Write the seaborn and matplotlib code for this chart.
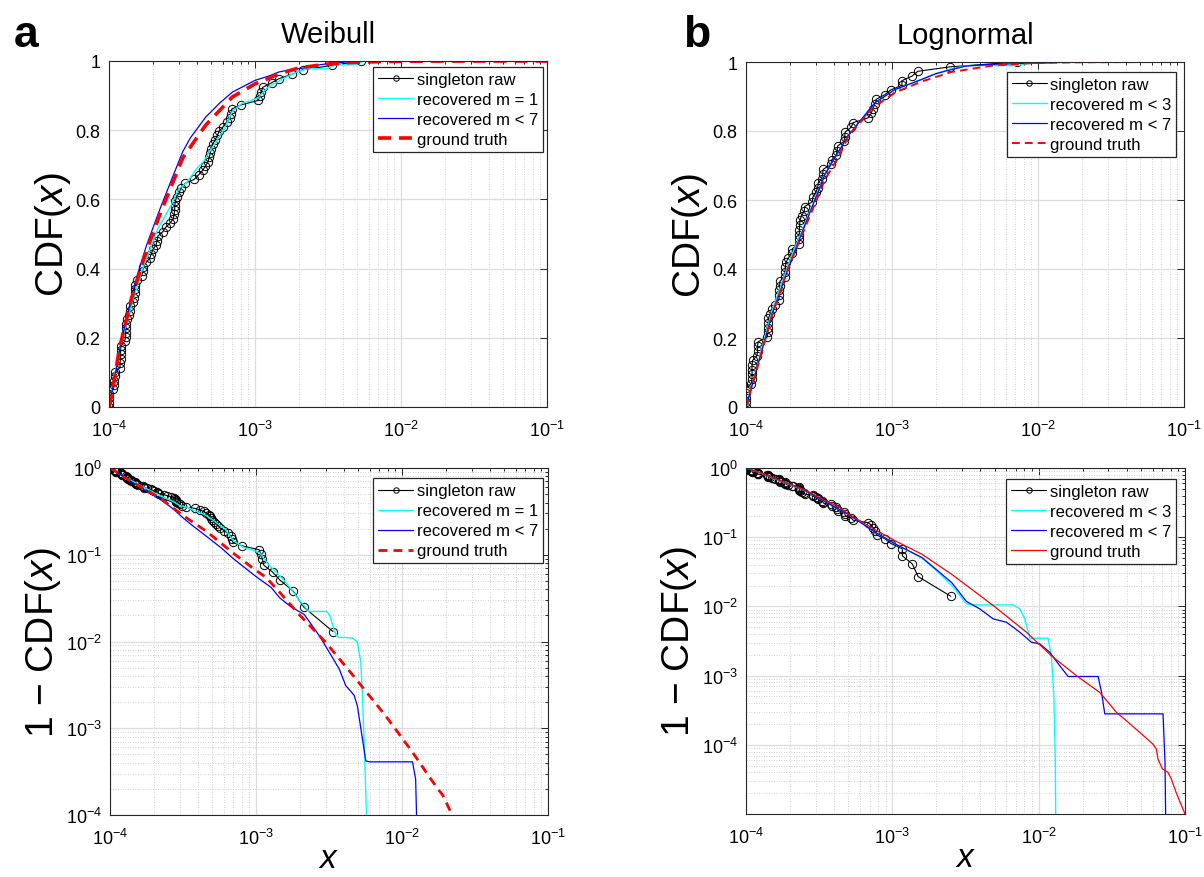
import numpy as np
import matplotlib
matplotlib.use("Agg")
import matplotlib.pyplot as plt
import seaborn as sns
from matplotlib.ticker import FixedLocator, LogLocator, NullFormatter, FixedFormatter, LogFormatterSciNotation

# ---------------- data ----------------
# Weibull: singleton raw empirical CDF
wb_raw_x = [1.00e-4, 1.00e-4, 1.00e-4, 1.00e-4, 1.07e-4, 1.09e-4, 1.09e-4, 1.10e-4, 1.10e-4, 1.19e-4,
            1.19e-4, 1.20e-4, 1.20e-4, 1.20e-4, 1.21e-4, 1.28e-4, 1.30e-4, 1.30e-4, 1.31e-4, 1.31e-4,
            1.33e-4, 1.38e-4, 1.39e-4, 1.40e-4, 1.47e-4, 1.48e-4, 1.50e-4, 1.50e-4, 1.51e-4, 1.55e-4,
            1.68e-4, 1.70e-4, 1.72e-4, 1.80e-4, 1.90e-4, 1.95e-4, 2.00e-4, 2.10e-4, 2.14e-4, 2.16e-4,
            2.33e-4, 2.44e-4, 2.62e-4, 2.76e-4, 2.79e-4, 2.82e-4, 2.82e-4, 2.85e-4, 2.91e-4, 3.03e-4,
            3.11e-4, 3.30e-4, 3.84e-4, 4.11e-4, 4.38e-4, 4.57e-4, 4.76e-4, 4.86e-4, 4.94e-4, 5.02e-4,
            5.12e-4, 5.33e-4, 5.53e-4, 5.68e-4, 6.05e-4, 6.38e-4, 6.72e-4, 6.86e-4, 6.93e-4, 8.00e-4,
            1.053e-3, 1.08e-3, 1.105e-3, 1.13e-3, 1.30e-3, 1.46e-3, 1.80e-3, 2.12e-3, 3.37e-3, 5.30e-3]
wb_raw_cdf = [0.000, 0.013, 0.025, 0.038, 0.051, 0.063, 0.076, 0.089, 0.101, 0.114,
              0.127, 0.139, 0.152, 0.165, 0.177, 0.190, 0.203, 0.215, 0.228, 0.241,
              0.253, 0.266, 0.278, 0.291, 0.304, 0.316, 0.329, 0.342, 0.354, 0.367,
              0.380, 0.392, 0.405, 0.418, 0.430, 0.443, 0.456, 0.468, 0.481, 0.494,
              0.506, 0.519, 0.532, 0.544, 0.557, 0.570, 0.582, 0.595, 0.608, 0.620,
              0.633, 0.646, 0.658, 0.671, 0.684, 0.696, 0.709, 0.722, 0.734, 0.747,
              0.759, 0.772, 0.785, 0.797, 0.810, 0.823, 0.835, 0.848, 0.861, 0.873,
              0.886, 0.899, 0.911, 0.924, 0.937, 0.949, 0.962, 0.975, 0.987, 1.000]

# Weibull: recovered m = 1 (survival 1-CDF)
wb_m1_x = [1.0e-4, 1.1e-4, 1.2e-4, 1.44e-4, 1.7e-4, 2.16e-4, 2.64e-4, 3.0e-4, 3.43e-4, 4.0e-4,
           4.45e-4, 5.0e-4, 6.1e-4, 7.0e-4, 8.2e-4, 1.0e-3, 1.06e-3, 1.21e-3, 1.57e-3, 1.98e-3,
           2.3e-3, 3.05e-3, 3.2e-3, 3.45e-3, 3.62e-3, 4.58e-3, 4.95e-3, 5.22e-3, 5.36e-3, 5.56e-3,
           5.79e-3, 1.0e-1]
wb_m1_s = [1.0, 0.90, 0.82, 0.70, 0.60, 0.485, 0.42, 0.37, 0.35, 0.31,
           0.29, 0.255, 0.20, 0.145, 0.122, 0.11, 0.105, 0.078, 0.050, 0.030,
           0.0222, 0.0222, 0.020, 0.013, 0.0112, 0.011, 0.0098, 0.0058, 0.0024, 4.1e-4,
           5e-5, 1e-9]

# Weibull: recovered m < 7
wb_m7_x = [1.0e-4, 1.1e-4, 1.2e-4, 1.42e-4, 1.56e-4, 1.8e-4, 2.2e-4, 2.64e-4, 3.2e-4, 3.61e-4,
           4.6e-4, 5.78e-4, 7.0e-4, 1.0e-3, 1.27e-3, 1.45e-3, 1.74e-3, 2.14e-3, 2.71e-3, 3.18e-3,
           3.72e-3, 4.12e-3, 4.70e-3, 4.95e-3, 5.36e-3, 5.65e-3, 6.0e-3, 1.18e-2, 1.24e-2, 1.27e-2,
           1.0e-1]
wb_m7_s = [1.0, 0.91, 0.82, 0.685, 0.62, 0.535, 0.435, 0.35, 0.262, 0.222,
           0.162, 0.12, 0.09, 0.056, 0.042, 0.032, 0.025, 0.0205, 0.0117, 0.0075,
           0.0048, 0.0031, 0.0024, 0.0018, 7.5e-4, 4.2e-4, 4.1e-4, 4.1e-4, 2.6e-4, 5e-5,
           1e-9]

# Weibull: ground truth
wb_gt_x = [1.0e-4, 1.05e-4, 1.18e-4, 1.42e-4, 1.75e-4, 2.2e-4, 3.2e-4, 4.6e-4, 7.0e-4, 1.0e-3,
           1.17e-3, 1.45e-3, 2.0e-3, 3.0e-3, 4.6e-3, 7.7e-3, 1.18e-2, 1.6e-2, 1.8e-2, 1.9e-2,
           2.05e-2, 2.2e-2, 2.5e-2, 1.0e-1]
wb_gt_s = [1.0, 0.96, 0.83, 0.69, 0.565, 0.45, 0.28, 0.185, 0.104, 0.066,
           0.055, 0.037, 0.020, 0.0098, 0.0041, 0.0014, 5.3e-4, 2.5e-4, 1.9e-4, 1.7e-4,
           1.3e-4, 1.0e-4, 6e-5, 1e-9]

# Lognormal: singleton raw empirical CDF
ln_raw_x = [1.00e-4, 1.00e-4, 1.00e-4, 1.00e-4, 1.00e-4, 1.09e-4, 1.10e-4, 1.10e-4, 1.10e-4, 1.10e-4,
            1.11e-4, 1.19e-4, 1.20e-4, 1.20e-4, 1.21e-4, 1.40e-4, 1.41e-4, 1.41e-4, 1.42e-4, 1.42e-4,
            1.47e-4, 1.50e-4, 1.575e-4, 1.68e-4, 1.69e-4, 1.69e-4, 1.70e-4, 1.71e-4, 1.84e-4, 1.85e-4,
            1.86e-4, 1.88e-4, 1.95e-4, 2.07e-4, 2.08e-4, 2.30e-4, 2.31e-4, 2.32e-4, 2.32e-4, 2.33e-4,
            2.34e-4, 2.40e-4, 2.51e-4, 2.52e-4, 2.85e-4, 2.87e-4, 3.00e-4, 3.10e-4, 3.12e-4, 3.30e-4,
            3.35e-4, 3.38e-4, 3.82e-4, 3.86e-4, 4.15e-4, 4.20e-4, 4.25e-4, 4.70e-4, 4.74e-4, 4.78e-4,
            5.25e-4, 5.40e-4, 6.84e-4, 7.20e-4, 7.40e-4, 7.60e-4, 7.80e-4, 8.90e-4, 9.80e-4, 1.17e-3,
            1.17e-3, 1.37e-3, 1.50e-3, 2.51e-3, 7.18e-3]
ln_raw_cdf = [0.000, 0.014, 0.027, 0.041, 0.054, 0.068, 0.081, 0.095, 0.108, 0.122,
              0.135, 0.149, 0.162, 0.176, 0.189, 0.203, 0.216, 0.230, 0.243, 0.257,
              0.270, 0.284, 0.297, 0.311, 0.324, 0.338, 0.351, 0.365, 0.378, 0.392,
              0.405, 0.419, 0.432, 0.446, 0.459, 0.473, 0.486, 0.500, 0.514, 0.527,
              0.541, 0.554, 0.568, 0.581, 0.595, 0.608, 0.622, 0.635, 0.649, 0.662,
              0.676, 0.689, 0.703, 0.716, 0.730, 0.743, 0.757, 0.770, 0.784, 0.797,
              0.811, 0.824, 0.838, 0.851, 0.865, 0.878, 0.892, 0.905, 0.919, 0.932,
              0.946, 0.959, 0.973, 0.986, 1.000]

# Lognormal: recovered m < 3
ln_m3_x = [1.0e-4, 1.22e-4, 1.51e-4, 2.06e-4, 2.55e-4, 3.48e-4, 5.02e-4, 7.64e-4, 1.046e-3, 1.59e-3,
           2.0e-3, 2.55e-3, 3.21e-3, 3.57e-3, 6.7e-3, 7.43e-3, 8.04e-3, 8.7e-3, 1.16e-2, 1.22e-2,
           1.27e-2, 1.30e-2, 1.31e-2, 1.0e-1]
ln_m3_s = [1.0, 0.865, 0.72, 0.56, 0.465, 0.325, 0.213, 0.118, 0.080, 0.050,
           0.033, 0.020, 0.0109, 0.0105, 0.0105, 0.0092, 0.0066, 0.00347, 0.00347, 0.00195,
           5.1e-4, 5.6e-5, 5e-6, 1e-9]

# Lognormal: recovered m < 7
ln_m7_x = [1.0e-4, 1.22e-4, 1.51e-4, 2.06e-4, 2.55e-4, 3.48e-4, 5.02e-4, 7.64e-4, 1.046e-3, 1.59e-3,
           2.0e-3, 2.55e-3, 3.21e-3, 3.96e-3, 4.89e-3, 6.03e-3, 7.43e-3, 8.93e-3, 1.02e-2, 1.19e-2,
           1.39e-2, 1.59e-2, 2.55e-2, 2.69e-2, 2.83e-2, 7.08e-2, 7.3e-2, 7.4e-2, 1.0e-1]
ln_m7_s = [1.0, 0.87, 0.73, 0.57, 0.47, 0.325, 0.213, 0.118, 0.080, 0.051,
           0.034, 0.022, 0.0118, 0.0092, 0.0066, 0.0059, 0.00424, 0.00303, 0.00287, 0.00217,
           0.0014, 9.7e-4, 9.7e-4, 5.7e-4, 2.8e-4, 2.8e-4, 5.6e-5, 5e-6, 1e-9]

# Lognormal: ground truth
ln_gt_x = [1.0e-4, 1.22e-4, 1.51e-4, 1.96e-4, 2.55e-4, 3.48e-4, 4.31e-4, 5.02e-4, 7.3e-4, 1.046e-3,
           1.59e-3, 2.55e-3, 4.89e-3, 8.26e-3, 1.22e-2, 1.81e-2, 2.62e-2, 3.4e-2, 4.0e-2, 4.91e-2,
           6.05e-2, 6.37e-2, 6.54e-2, 7.0e-2, 7.65e-2, 8.07e-2, 8.73e-2, 1.0e-1]
ln_gt_s = [1.0, 0.874, 0.734, 0.594, 0.478, 0.34, 0.275, 0.216, 0.135, 0.0886,
           0.0569, 0.029, 0.0103, 0.00423, 0.00194, 0.0010, 5.7e-4, 2.94e-4, 2.2e-4, 1.51e-4,
           1.02e-4, 8.7e-5, 6.2e-5, 4.5e-5, 4.0e-5, 3.2e-5, 2.0e-5, 1.0e-5]

x_ticks = [1e-4, 1e-3, 1e-2, 1e-1]
cdf_ticks = [0, 0.2, 0.4, 0.6, 0.8, 1.0]
cdf_tick_labels = ["0", "0.2", "0.4", "0.6", "0.8", "1"]
surv_ticks = [1e-4, 1e-3, 1e-2, 1e-1, 1e0]

# ---------------- styling ----------------
sns.set_theme(style="white")
plt.rcParams["font.family"] = ["Liberation Sans", "DejaVu Sans"]
plt.rcParams["mathtext.fontset"] = "custom"
plt.rcParams["mathtext.rm"] = "Liberation Sans"
plt.rcParams["mathtext.it"] = "Liberation Sans:italic"
plt.rcParams["mathtext.bf"] = "Liberation Sans:bold"
plt.rcParams["text.color"] = "black"
plt.rcParams["axes.labelcolor"] = "black"

fig = plt.figure(figsize=(12.04, 8.78), dpi=100)
W, H = 1204.0, 878.0


def add_axes(l, t, r, b):
    return fig.add_axes([l / W, 1 - b / H, (r - l) / W, (b - t) / H])


ax_tl = add_axes(109, 62, 547, 408)
ax_tr = add_axes(746, 63, 1184, 408)
ax_bl = add_axes(110, 469, 548, 816)
ax_br = add_axes(746, 469, 1185, 815)


def style(ax, log_y, ylim):
    ax.set_xscale("log")
    ax.set_xlim(1e-4, 1e-1)
    ax.xaxis.set_major_locator(FixedLocator(x_ticks))
    ax.xaxis.set_major_formatter(LogFormatterSciNotation())
    ax.xaxis.set_minor_locator(LogLocator(base=10, subs=np.arange(2, 10)))
    ax.xaxis.set_minor_formatter(NullFormatter())
    if log_y:
        ax.set_yscale("log")
        ax.set_ylim(*ylim)
        ax.yaxis.set_major_locator(FixedLocator(surv_ticks))
        ax.yaxis.set_major_formatter(LogFormatterSciNotation())
        ax.yaxis.set_minor_locator(LogLocator(base=10, subs=np.arange(2, 10)))
        ax.yaxis.set_minor_formatter(NullFormatter())
        ax.grid(which="minor", axis="y", color="#c4c4c4", lw=0.6, ls=(0, (1, 2)))
    else:
        ax.set_ylim(*ylim)
        ax.yaxis.set_major_locator(FixedLocator(cdf_ticks))
        ax.yaxis.set_major_formatter(FixedFormatter(cdf_tick_labels))
    ax.grid(which="major", color="#dcdcdc", lw=0.9, ls="-")
    ax.grid(which="minor", axis="x", color="#c4c4c4", lw=0.6, ls=(0, (1, 2)))
    ax.set_axisbelow(True)
    ax.tick_params(which="both", direction="in", top=True, right=True,
                   color="#262626", width=0.7)
    ax.tick_params(which="major", length=5, labelsize=13, labelcolor="black")
    ax.tick_params(axis="x", which="major", pad=9)
    ax.tick_params(axis="y", which="major", pad=6)
    ax.tick_params(which="minor", length=2.5)
    for sp in ax.spines.values():
        sp.set_color("#262626")
        sp.set_linewidth(0.8)


def raw_plot(ax, x, y, label="singleton raw"):
    sns.lineplot(x=x, y=y, ax=ax, color="black", lw=0.8, marker="o", markersize=6,
                 markerfacecolor="none", markeredgecolor="black", markeredgewidth=0.7,
                 estimator=None, sort=False, label=label)


def line_plot(ax, x, y, color, label, lw=1.0, ls="-"):
    sns.lineplot(x=x, y=y, ax=ax, color=color, lw=lw, linestyle=ls,
                 estimator=None, sort=False, label=label)


def legend(ax, anchor):
    leg = ax.legend(loc="upper right", bbox_to_anchor=anchor, borderaxespad=0,
                    fontsize=12, handlelength=2.1, handletextpad=0.2, labelspacing=0.3,
                    borderpad=0.3, frameon=True, fancybox=False, framealpha=1,
                    edgecolor="#262626", markerscale=0.65)
    leg.get_frame().set_linewidth(0.9)


LABEL_FS = 28
XLABEL_FS = 24
YPAD = 2

# ---- panel a, top: Weibull CDF ----
ax = ax_tl
raw_plot(ax, wb_raw_x, wb_raw_cdf)
line_plot(ax, wb_m1_x, [1 - s for s in wb_m1_s], "#00ffff", "recovered m = 1", lw=1.0)
line_plot(ax, wb_m7_x, [1 - s for s in wb_m7_s], "#0000ff", "recovered m < 7", lw=0.9)
line_plot(ax, wb_gt_x, [1 - s for s in wb_gt_s], "#ff0000", "ground truth", lw=2.6, ls=(0, (3.6, 2.2)))
style(ax, False, (0, 1))
legend(ax, (0.991, 0.983))
ax.set_ylabel("CDF($x$)", fontsize=LABEL_FS, labelpad=YPAD)
ax.set_title("Weibull", fontsize=21, pad=14)

# ---- panel a, bottom: Weibull 1-CDF ----
ax = ax_bl
raw_plot(ax, wb_raw_x[:-1], [1 - c for c in wb_raw_cdf[:-1]])
line_plot(ax, wb_m1_x, wb_m1_s, "#00ffff", "recovered m = 1", lw=1.0)
line_plot(ax, wb_m7_x, wb_m7_s, "#0000ff", "recovered m < 7", lw=0.9)
line_plot(ax, wb_gt_x, wb_gt_s, "#ff0000", "ground truth", lw=2.0, ls=(0, (3.2, 2.2)))
style(ax, True, (1e-4, 1.0))
legend(ax, (0.9886, 0.970))
ax.set_ylabel("1 \u2212 CDF($x$)", fontsize=LABEL_FS, labelpad=YPAD)
ax.set_xlabel("$x$", fontsize=XLABEL_FS, labelpad=-3)

# ---- panel b, top: Lognormal CDF ----
ax = ax_tr
raw_plot(ax, ln_raw_x, ln_raw_cdf)
line_plot(ax, ln_m3_x, [1 - s for s in ln_m3_s], "#00ffff", "recovered m < 3", lw=1.0)
line_plot(ax, ln_m7_x, [1 - s for s in ln_m7_s], "#0000ff", "recovered m < 7", lw=0.9)
line_plot(ax, ln_gt_x, [1 - s for s in ln_gt_s], "#ff0000", "ground truth", lw=1.4, ls=(0, (4.0, 2.6)))
style(ax, False, (0, 1))
legend(ax, (0.982, 0.972))
ax.set_ylabel("CDF($x$)", fontsize=LABEL_FS, labelpad=YPAD)
ax.set_title("Lognormal", fontsize=21, pad=14)

# ---- panel b, bottom: Lognormal 1-CDF ----
ax = ax_br
raw_plot(ax, ln_raw_x[:-1], [1 - c for c in ln_raw_cdf[:-1]])
line_plot(ax, ln_m3_x, ln_m3_s, "#00ffff", "recovered m < 3", lw=1.0)
line_plot(ax, ln_m7_x, ln_m7_s, "#0000ff", "recovered m < 7", lw=0.9)
line_plot(ax, ln_gt_x, ln_gt_s, "#ff0000", "ground truth", lw=0.9)
style(ax, True, (1.0001e-5, 1.0))
legend(ax, (0.9795, 0.968))
ax.set_ylabel("1 \u2212 CDF($x$)", fontsize=LABEL_FS, labelpad=YPAD)
ax.set_xlabel("$x$", fontsize=XLABEL_FS, labelpad=-3)

fig.text(26 / W, 1 - 47 / H, "a", fontsize=32, fontweight="bold", ha="center", va="baseline")
fig.text(697 / W, 1 - 47 / H, "b", fontsize=32, fontweight="bold", ha="center", va="baseline")

fig.savefig("out.png", dpi=100)
